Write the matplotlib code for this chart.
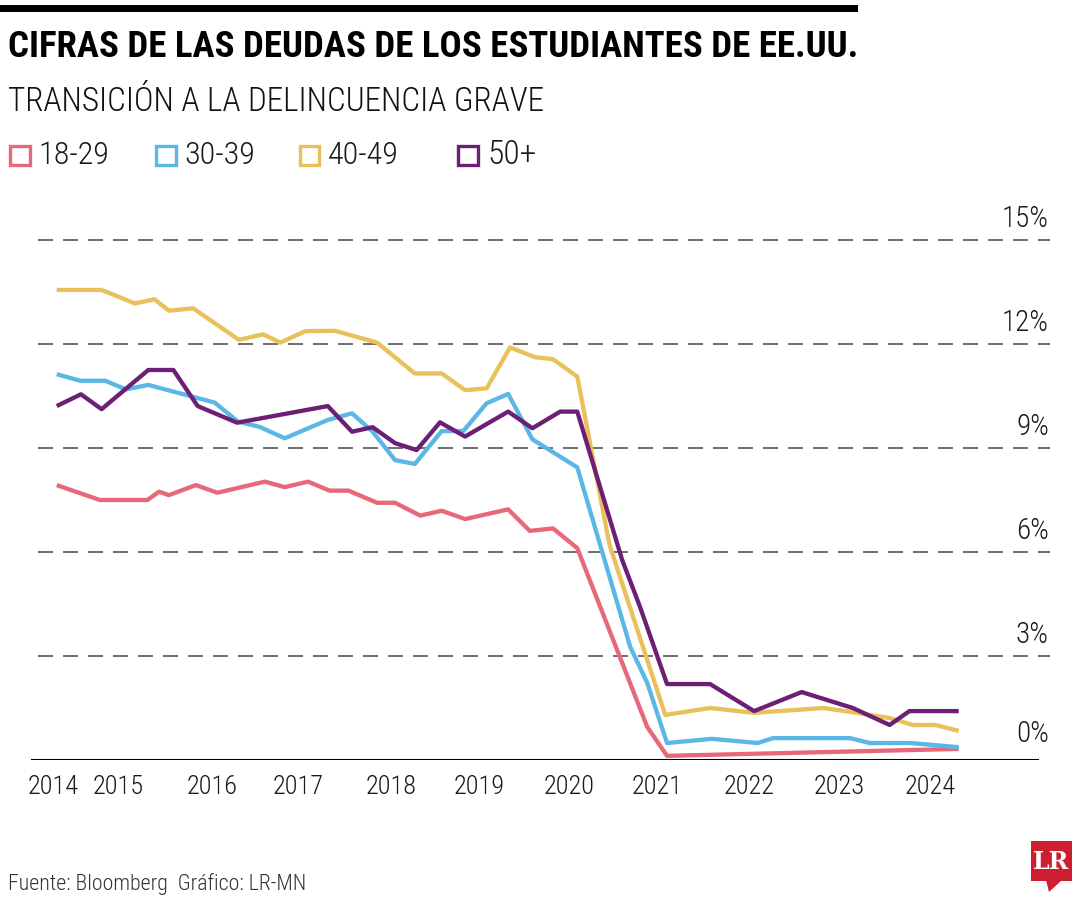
import matplotlib
matplotlib.use('Agg')
import matplotlib.pyplot as plt
from matplotlib import font_manager as fm
from matplotlib.patches import Rectangle, Polygon

# ---------------- data ----------------
series_labels = ["18-29", "30-39", "40-49", "50+"]
series_colors = ["#E8687A", "#5BB7E5", "#EAC05B", "#6C1F74"]

years_1829 = [2014.27, 2014.75, 2015.28, 2015.41, 2015.52, 2015.82, 2016.06, 2016.59, 2016.81,
              2017.07, 2017.31, 2017.52, 2017.84, 2018.04, 2018.32, 2018.56, 2018.82, 2019.30,
              2019.54, 2019.80, 2020.07, 2020.85, 2021.07, 2024.32]
vals_1829 = [7.93, 7.50, 7.50, 7.74, 7.64, 7.93, 7.71, 8.03, 7.87,
             8.03, 7.77, 7.77, 7.42, 7.42, 7.05, 7.19, 6.95, 7.23,
             6.61, 6.68, 6.11, 0.95, 0.12, 0.32]

years_3039 = [2014.27, 2014.53, 2014.81, 2015.04, 2015.29, 2016.03, 2016.29, 2016.53, 2016.81,
              2017.29, 2017.56, 2017.79, 2018.04, 2018.26, 2018.56, 2018.80, 2019.06, 2019.30,
              2019.57, 2020.07, 2020.66, 2020.85, 2021.07, 2021.57, 2022.08, 2022.25, 2023.11,
              2023.33, 2023.78, 2024.32]
vals_3039 = [11.13, 10.94, 10.94, 10.69, 10.82, 10.31, 9.76, 9.61, 9.28,
             9.81, 10.00, 9.47, 8.65, 8.54, 9.49, 9.49, 10.29, 10.56,
             9.25, 8.44, 3.26, 2.22, 0.49, 0.61, 0.49, 0.63, 0.63,
             0.49, 0.49, 0.37]

years_4049 = [2014.27, 2014.77, 2015.14, 2015.36, 2015.52, 2015.79, 2016.30, 2016.57, 2016.76,
              2017.04, 2017.37, 2017.84, 2018.26, 2018.56, 2018.82, 2019.06, 2019.32, 2019.60,
              2019.80, 2020.07, 2020.43, 2021.05, 2021.55, 2022.04, 2022.81, 2023.14, 2023.55,
              2023.81, 2024.06, 2024.32]
vals_4049 = [13.56, 13.56, 13.17, 13.29, 12.96, 13.03, 12.12, 12.28, 12.04,
             12.37, 12.38, 12.04, 11.15, 11.15, 10.67, 10.72, 11.90, 11.62,
             11.56, 11.06, 6.20, 1.30, 1.50, 1.36, 1.50, 1.38, 1.21,
             1.01, 1.01, 0.84]

years_50 = [2014.27, 2014.54, 2014.77, 2015.29, 2015.57, 2015.84, 2016.28, 2017.29, 2017.56,
            2017.79, 2018.04, 2018.28, 2018.54, 2018.82, 2019.30, 2019.57, 2019.88, 2020.07,
            2020.57, 2020.77, 2021.07, 2021.55, 2022.04, 2022.57, 2023.14, 2023.55, 2023.77,
            2024.32]
vals_50 = [10.21, 10.55, 10.12, 11.25, 11.25, 10.21, 9.73, 10.21, 9.47,
           9.60, 9.14, 8.94, 9.74, 9.33, 10.05, 9.57, 10.05, 10.05,
           5.77, 4.41, 2.19, 2.19, 1.41, 1.96, 1.50, 1.01, 1.41,
           1.41]

year_tick_pos = [2014.23, 2014.95, 2016, 2016.96, 2018, 2018.98, 2019.98, 2020.96, 2021.98, 2022.99, 2024]
year_tick_labels = ["2014", "2015", "2016", "2017", "2018", "2019", "2020", "2021", "2022", "2023", "2024"]
pct_ticks = [0, 3, 6, 9, 12, 15]
pct_labels = ["0%", "3%", "6%", "9%", "12%", "15%"]

title = "CIFRAS DE LAS DEUDAS DE LOS ESTUDIANTES DE EE.UU."
subtitle = "TRANSICIÓN A LA DELINCUENCIA GRAVE"
footer = "Fuente: Bloomberg  Gráfico: LR-MN"

# ---------------- fonts ----------------
avail = {f.name for f in fm.fontManager.ttflist}

def pick(cands):
    for c in cands:
        if c in avail:
            return c
    return "DejaVu Sans"

FONT = pick(["Roboto Condensed", "Liberation Sans Narrow", "Open Sans", "Lato"])
LIGHT = "light"

W, H = 1080, 900
fig = plt.figure(figsize=(W / 100, H / 100), dpi=100)
fig.patch.set_facecolor("white")

def fx(x):
    return x / W

def fy(y):
    return 1 - y / H

# ---------------- axes ----------------
ax_left, ax_right, ax_top, ax_bottom = 31, 1050, 200, 760
ax = fig.add_axes([fx(ax_left), fy(ax_bottom), (ax_right - ax_left) / W, (ax_bottom - ax_top) / H])
px_per_year = 89.75
x0 = 2016 + (ax_left - 212) / px_per_year
x1 = 2016 + (ax_right - 212) / px_per_year
ax.set_xlim(x0, x1)
ypx = 104 / 3.0
ax.set_ylim(0, (ax_bottom - ax_top) / ypx)
for s in ax.spines.values():
    s.set_visible(False)
ax.set_yticks([])
ax.set_xticks(year_tick_pos)
ax.set_xticklabels(year_tick_labels, fontsize=19, family=FONT, weight=LIGHT, color="#1a1a1a")
ax.tick_params(axis="x", length=0, pad=11)

gx0 = (38 - ax_left) / (ax_right - ax_left)
for v, lab in zip(pct_ticks, pct_labels):
    if v > 0:
        ax.axhline(v, xmin=gx0, xmax=1, color="#555555", lw=1.2, dashes=(9, 6), zorder=1)
    off = 7 if v > 0 else 12
    ax.text(0.999, v + off / ypx, lab, transform=ax.get_yaxis_transform(), ha="right", va="bottom",
            fontsize=21, family=FONT, weight=LIGHT, color="#1a1a1a")
ax.axhline(0, xmin=0, xmax=(1038 - ax_left) / (ax_right - ax_left), color="black", lw=1.5, zorder=2)

all_years = [years_1829, years_3039, years_4049, years_50]
all_vals = [vals_1829, vals_3039, vals_4049, vals_50]
for yrs, vals, col in zip(all_years, all_vals, series_colors):
    ax.plot(yrs, vals, color=col, lw=3.1, solid_joinstyle="round", solid_capstyle="butt", zorder=3)

# ---------------- header ----------------
fig.add_artist(Rectangle((fx(0), fy(12)), fx(858), 7 / H, transform=fig.transFigure,
                         facecolor="black", edgecolor="none"))

def fit_text(x, y, s, target_w, size, **kw):
    t = fig.text(fx(x), fy(y), s, fontsize=size, va="center", ha="left", **kw)
    r = fig.canvas.get_renderer()
    w = t.get_window_extent(r).width
    t.set_fontsize(size * target_w / w)
    return t

fit_text(8, 47, title, 850, 22, family=FONT, weight="bold", color="black")
fit_text(8, 102, subtitle, 537, 20, family=FONT, weight=LIGHT, color="#111111")
fit_text(8, 884, footer, 298, 12, family=FONT, weight=LIGHT, color="#333333")

# legend
leg_sq_x = [8, 154, 298, 456]
leg_tx_x = [38, 184, 328, 487]
for sx, tx, lab, col in zip(leg_sq_x, leg_tx_x, series_labels, series_colors):
    fig.add_artist(Rectangle((fx(sx + 1.5), fy(166 - 1.5)), 20 / W, 19 / H, transform=fig.transFigure,
                             facecolor="none", edgecolor=col, lw=2.4))
    fit_text(tx, 155, lab, 71 if lab != "50+" else 49, 22, family=FONT, weight=LIGHT, color="#1a1a1a")

# logo
fig.add_artist(Rectangle((fx(1031), fy(881)), 41 / W, 40 / H, transform=fig.transFigure,
                         facecolor="#CC2030", edgecolor="none"))
fig.add_artist(Polygon([(fx(1046), fy(880)), (fx(1062), fy(880)), (fx(1049), fy(892))],
                       closed=True, transform=fig.transFigure, facecolor="#CC2030", edgecolor="none"))
fig.text(fx(1051.5), fy(862), "LR", fontsize=17, family="DejaVu Serif", weight="bold",
         color="white", ha="center", va="center")

fig.savefig("out.png", dpi=100, facecolor="white")
